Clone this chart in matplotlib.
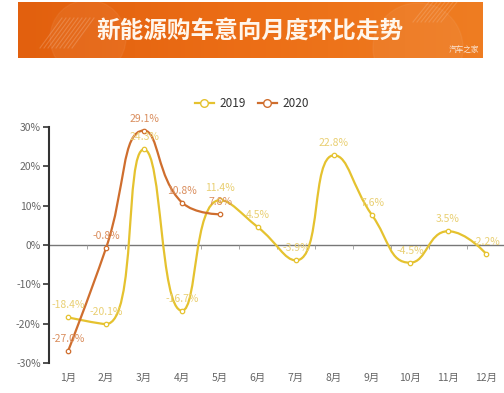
import numpy as np
import matplotlib.pyplot as plt
from matplotlib.path import Path
from matplotlib.patches import PathPatch
from matplotlib.lines import Line2D
from matplotlib.colors import LinearSegmentedColormap

plt.rcParams['font.family'] = ['Noto Sans CJK SC', 'DejaVu Sans']

months = ['1月', '2月', '3月', '4月', '5月', '6月', '7月', '8月', '9月', '10月', '11月', '12月']
vals_2019 = [-18.4, -20.1, 24.3, -16.7, 11.4, 4.5, -3.9, 22.8, 7.6, -4.5, 3.5, -2.2]
vals_2020 = [-27.0, -0.8, 29.1, 10.8, 7.8]
yticks = [-30, -20, -10, 0, 10, 20, 30]

c2019 = '#E5C22F'
c2020 = '#CF6E2E'
lab2019 = '#E9CF72'
lab2020 = '#DA8E5E'

# pixel scale, so the smoothing behaves like it does on screen
PX_X = 38.0
PX_Y = 236.0 / 60.0


def smooth_path(xs, ys, smooth=0.5):
    # echarts-style bezier smoothing with min/max constraint
    pts = np.column_stack([np.asarray(xs) * PX_X, np.asarray(ys) * PX_Y])
    n = len(pts)
    verts = [pts[0]]
    codes = [Path.MOVETO]
    cp0 = pts[0].copy()
    for i in range(1, n):
        x, y = pts[i]
        px, py = pts[i - 1]
        if i == n - 1:
            cp1 = np.array([x, y])
            nxt_cp0 = None
        else:
            nx, ny = pts[i + 1]
            vx, vy = nx - px, ny - py
            len_prev = np.hypot(x - px, y - py)
            len_next = np.hypot(nx - x, ny - y)
            r = len_next / (len_next + len_prev)
            ncx = x + vx * smooth * r
            ncy = y + vy * smooth * r
            ncx = max(min(ncx, max(nx, x)), min(nx, x))
            ncy = max(min(ncy, max(ny, y)), min(ny, y))
            vx, vy = ncx - x, ncy - y
            c1x = x - vx * len_prev / len_next
            c1y = y - vy * len_prev / len_next
            c1x = max(min(c1x, max(px, x)), min(px, x))
            c1y = max(min(c1y, max(py, y)), min(py, y))
            vx, vy = x - c1x, y - c1y
            ncx = x + vx * len_next / len_prev
            ncy = y + vy * len_next / len_prev
            cp1 = np.array([c1x, c1y])
            nxt_cp0 = np.array([ncx, ncy])
        verts += [cp0, cp1, pts[i]]
        codes += [Path.CURVE4] * 3
        cp0 = nxt_cp0
    verts = np.array(verts)
    verts[:, 0] /= PX_X
    verts[:, 1] /= PX_Y
    return Path(verts, codes)


fig = plt.figure(figsize=(5.04, 3.93), dpi=100)

# banner
bax = fig.add_axes([18 / 504, 1 - 58 / 393, 465 / 504, 56 / 393])
grad = np.linspace(0, 1, 256).reshape(1, -1)
cmap = LinearSegmentedColormap.from_list('b', ['#E2600E', '#EC6E16', '#EF7D22'])
bax.imshow(grad, aspect='auto', cmap=cmap, extent=[0, 465, 0, 56])
for k in range(9):
    x0 = 22 + k * 4
    bax.plot([x0, x0 + 22], [10, 40], color='white', alpha=0.18, lw=0.8)
for k in range(8):
    x0 = 395 + k * 4
    bax.plot([x0, x0 + 16], [36, 56], color='white', alpha=0.15, lw=0.8)
bax.add_patch(plt.Circle((70, 20), 38, color='white', alpha=0.05))
bax.add_patch(plt.Circle((400, 10), 45, color='white', alpha=0.05))
bax.set_xlim(0, 465)
bax.set_ylim(0, 56)
bax.axis('off')
fig.text(250 / 504, 1 - 31 / 393, '新能源购车意向月度环比走势', color='#FFF6EC',
         fontsize=17, fontweight='bold', ha='center', va='center')
fig.text(479 / 504, 1 - 50 / 393, '汽车之家', color='#FBE6D6', fontsize=5.5,
         ha='right', va='center')

# chart
ax = fig.add_axes([49 / 504, 1 - 363 / 393, 456 / 504, 236 / 393])
ax.set_xlim(-0.5, 11.5)
ax.set_ylim(-30, 30)

x19 = np.arange(len(vals_2019))
x20 = np.arange(len(vals_2020))
ax.add_patch(PathPatch(smooth_path(x19, vals_2019), fill=False, edgecolor=c2019, lw=1.6, zorder=3))
ax.add_patch(PathPatch(smooth_path(x20, vals_2020), fill=False, edgecolor=c2020, lw=1.6, zorder=4))
ax.plot(x19, vals_2019, 'o', ms=3.2, mfc='white', mec=c2019, mew=0.9, zorder=5)
ax.plot(x20, vals_2020, 'o', ms=3.2, mfc='white', mec=c2020, mew=0.9, zorder=6)

for x, v in zip(x19, vals_2019):
    ax.annotate(f'{v:.1f}%', (x, v), xytext=(0, 5), textcoords='offset points',
                ha='center', va='bottom', color=lab2019, fontsize=7.5, zorder=7)
for x, v in zip(x20, vals_2020):
    ax.annotate(f'{v:.1f}%', (x, v), xytext=(0, 5), textcoords='offset points',
                ha='center', va='bottom', color=lab2020, fontsize=7.5, zorder=7)

# zero axis line with boundary ticks
ax.axhline(0, color='#777777', lw=1.0, zorder=2)
ax.vlines(np.arange(0.5, 11.5, 1), -1.1, 0, color='#999999', lw=0.6, zorder=2)

ax.set_yticks(yticks)
ax.set_yticklabels([f'{t}%' for t in yticks])
ax.set_xticks(np.arange(12))
ax.set_xticklabels(months)
ax.tick_params(axis='y', length=4, width=1.2, color='#333333', labelsize=7.5,
               labelcolor='#666666', pad=2)
ax.tick_params(axis='x', length=0, labelsize=7.5, labelcolor='#666666', pad=7)
for s in ['top', 'right', 'bottom']:
    ax.spines[s].set_visible(False)
ax.spines['left'].set_color('#333333')
ax.spines['left'].set_linewidth(1.5)

# legend
h19 = Line2D([], [], color=c2019, lw=1.6, marker='o', ms=5.5, mfc='white', mec=c2019)
h20 = Line2D([], [], color=c2020, lw=1.6, marker='o', ms=5.5, mfc='white', mec=c2020)
fig.legend([h19, h20], ['2019', '2020'], loc='center', bbox_to_anchor=(252 / 504, 1 - 104 / 393),
           ncol=2, frameon=False, fontsize=8.5, handlelength=1.6, handletextpad=0.5,
           columnspacing=1.0, labelcolor='#333333')

fig.savefig('out.png', dpi=100)
